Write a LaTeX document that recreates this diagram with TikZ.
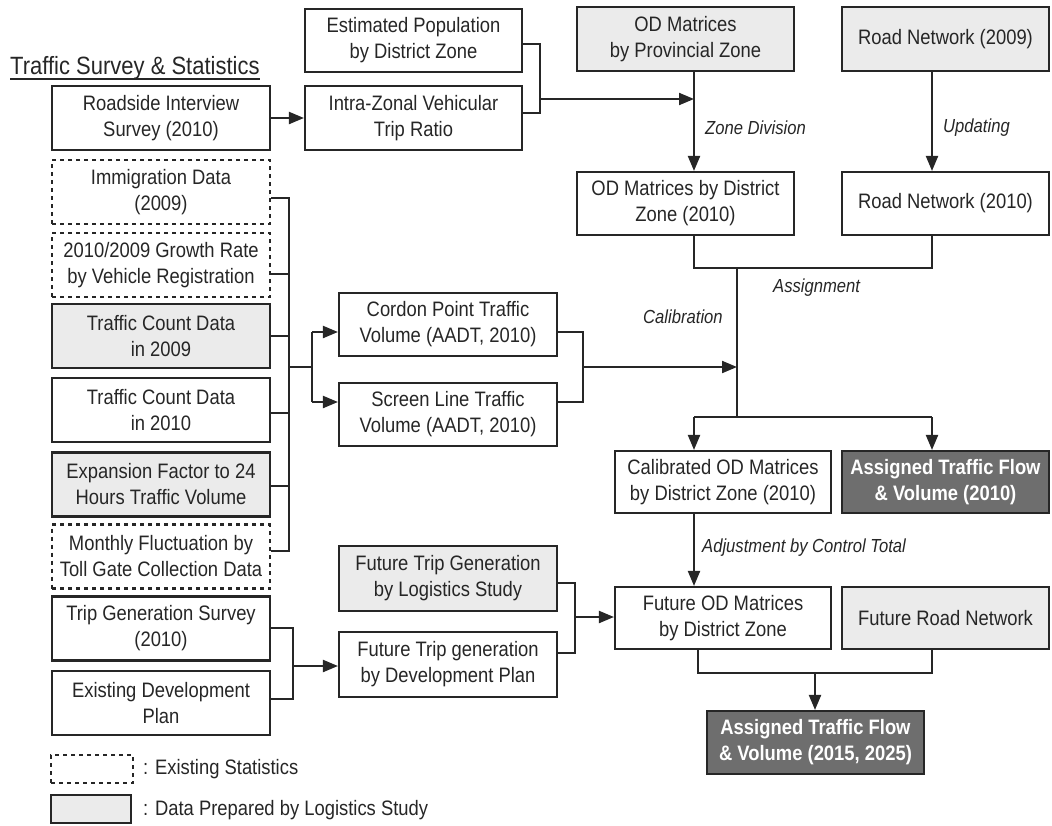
\documentclass[tikz,border=0pt]{standalone}
\usepackage{fontspec}
\setmainfont{Liberation Sans}[FakeStretch=0.88]
\usetikzlibrary{arrows.meta,calc}
\definecolor{lightfill}{HTML}{EBEBEB}
\definecolor{darkfill}{HTML}{6E6E6E}
\definecolor{ink}{HTML}{262626}
\begin{document}
\begin{tikzpicture}[x=1pt,y=-1pt,
  box/.style={draw=ink, line width=2.1pt, minimum width=218pt, minimum height=64pt, align=center, inner sep=2pt, font=\fontsize{20.9}{26}\selectfont, text=ink},
  dbox/.style={box, dash pattern=on 4pt off 4pt},
  gbox/.style={box, fill=lightfill},
  kbox/.style={box, fill=darkfill, text=white, font=\fontsize{20.9}{26}\selectfont\bfseries},
  conn/.style={draw=ink, line width=2.1pt},
  arr/.style={conn, -{Triangle[length=15pt,width=12pt]}},
  lbl/.style={font=\fontsize{18.9}{20}\selectfont\itshape, text=ink, inner sep=0pt, anchor=west},
  legtext/.style={font=\fontsize{20.9}{22}\selectfont, text=ink, inner sep=0pt, anchor=west}]
\useasboundingbox (0,0) rectangle (1052,825);

% title
\node[anchor=base west, inner sep=0pt, font=\fontsize{25}{26}\selectfont, text=ink] (ttl) at (10,74) {Traffic Survey \& Statistics};
\draw[ink, line width=1.6pt] ([yshift=-5pt]ttl.base west) -- ([yshift=-5pt]ttl.base east);

% left column
\node[box]  (rsi)  at (161,118)    {Roadside Interview\\Survey (2010)};
\node[dbox] (imm)  at (161,192)    {Immigration Data\\(2009)};
\node[dbox] (gro)  at (161,265)    {2010/2009 Growth Rate\\by Vehicle Registration};
\node[gbox] (tc09) at (161,336)    {Traffic Count Data\\in 2009};
\node[box]  (tc10) at (161,410)    {Traffic Count Data\\in 2010};
\node[gbox] (exf)  at (161,484.5)  {Expansion Factor to 24\\Hours Traffic Volume};
\node[dbox] (mon)  at (161,556.5)  {Monthly Fluctuation by\\Toll Gate Collection Data};
\node[box]  (tgs)  at (161,628.5)  {Trip Generation Survey\\(2010)};
\node[box]  (edp)  at (161,703)    {Existing Development\\Plan};

% top
\node[box, minimum width=217pt, minimum height=63pt] (est) at (413.5,40.5) {Estimated Population\\by District Zone};
\node[box, minimum width=217pt] (izr) at (413.5,118) {Intra-Zonal Vehicular\\Trip Ratio};
\node[gbox, minimum width=217pt] (odp) at (685.5,39) {OD Matrices\\by Provincial Zone};
\node[gbox, minimum width=207pt] (rn09) at (945.5,39) {Road Network (2009)};
\node[box, minimum width=217pt, minimum height=63pt] (odd) at (685.5,203.5) {OD Matrices by District\\Zone (2010)};
\node[box, minimum width=207pt, minimum height=63pt] (rn10) at (945.5,203.5) {Road Network (2010)};

% middle
\node[box, minimum height=63pt] (cpt) at (448,324.5) {Cordon Point Traffic\\Volume (AADT, 2010)};
\node[box, minimum height=63pt] (slt) at (448,414.5) {Screen Line Traffic\\Volume (AADT, 2010)};
\node[box, minimum width=216pt, minimum height=62pt] (cod) at (723,482) {Calibrated OD Matrices\\by District Zone (2010)};
\node[kbox, minimum width=207pt, minimum height=62pt] (at10) at (945.5,482) {Assigned Traffic Flow\\\& Volume (2010)};

% bottom
\node[gbox, minimum height=65pt] (ftl) at (448,578.5) {Future Trip Generation\\by Logistics Study};
\node[box, minimum height=65pt] (ftd) at (448,664.5) {Future Trip generation\\by Development Plan};
\node[box, minimum width=216pt, minimum height=62pt] (fod) at (723,618) {Future OD Matrices\\by District Zone};
\node[gbox, minimum width=207pt, minimum height=62pt] (frn) at (945.5,618) {Future Road Network};
\node[kbox, minimum width=217pt, minimum height=63pt] (at15) at (815.5,742.5) {Assigned Traffic Flow\\\& Volume (2015, 2025)};

% connectors: roadside -> intra-zonal
\draw[arr] (rsi.east) -- (izr.west);

% top bracket -> zone division
\coordinate (e1) at (540,44);
\coordinate (e2) at (540,113);
\coordinate (ej) at (540,99);
\coordinate (zj) at (694,99);
\draw[conn] (est.east |- e1) -- (e1) -- (e2) -- (izr.east |- e2);
\draw[arr] (ej) -- (zj);
\draw[arr] (odp.south -| zj) -- (odd.north -| zj);
\node[lbl] (lzd) at (705,128) {Zone Division};
\coordinate (ux) at (932,128);
\draw[arr] (rn09.south -| ux) -- (rn10.north -| ux);
\node[lbl] (lup) at (943,128) {Updating};

% assignment bracket
\coordinate (aL) at (694,268);
\coordinate (aR) at (932,268);
\coordinate (ab) at (737,268);
\coordinate (cB) at (737,417);
\coordinate (cL) at (694,417);
\coordinate (cR) at (932,417);
\draw[conn] (odd.south -| aL) -- (aL) -- (aR) -- (rn10.south -| aR);
\draw[conn] (ab) -- (cB);
\draw[conn] (cL) -- (cR);
\draw[arr] (cL) -- (cod.north -| cL);
\draw[arr] (cR) -- (at10.north -| cR);
\node[lbl] (lasg) at (773,288) {Assignment};
\node[lbl] (lcal) at (643,317) {Calibration};

% left bus
\coordinate (b1) at (289,198);
\coordinate (b2) at (289,274);
\coordinate (b3) at (289,336);
\coordinate (b4) at (289,413);
\coordinate (b5) at (289,486);
\coordinate (b6) at (289,551);
\coordinate (bj) at (289,367);
\coordinate (sj) at (312,367);
\coordinate (s1) at (312,332);
\coordinate (s2) at (312,402);
\draw[conn] (imm.east |- b1) -- (b1) -- (b6) -- (mon.east |- b6);
\draw[conn] (gro.east |- b2) -- (b2);
\draw[conn] (tc09.east |- b3) -- (b3);
\draw[conn] (tc10.east |- b4) -- (b4);
\draw[conn] (exf.east |- b5) -- (b5);
\draw[conn] (bj) -- (sj);
\draw[conn] (s1) -- (s2);
\draw[arr] (s1) -- (cpt.west |- s1);
\draw[arr] (s2) -- (slt.west |- s2);

% cordon/screen -> calibration
\coordinate (r1) at (583,332);
\coordinate (r2) at (583,402);
\coordinate (rj) at (583,367);
\draw[conn] (cpt.east |- r1) -- (r1) -- (r2) -- (slt.east |- r2);
\draw[arr] (rj) -- (rj -| cB);

% adjustment
\draw[arr] (cod.south -| cL) -- (fod.north -| cL);
\node[lbl] (ladj) at (702,548) {Adjustment by Control Total};

% future trip generation -> future OD
\coordinate (f1) at (575,583);
\coordinate (f2) at (575,653);
\coordinate (fj) at (575,617);
\draw[conn] (ftl.east |- f1) -- (f1) -- (f2) -- (ftd.east |- f2);
\draw[arr] (fj) -- (fod.west |- fj);

% trip generation survey -> future trip generation
\coordinate (t1) at (293,628);
\coordinate (t2) at (293,699);
\coordinate (tj) at (293,666);
\draw[conn] (tgs.east |- t1) -- (t1) -- (t2) -- (edp.east |- t2);
\draw[arr] (tj) -- (ftd.west |- tj);

% future assignment
\coordinate (g1) at (698,673);
\coordinate (g2) at (932,673);
\coordinate (gj) at (815,673);
\draw[conn] (fod.south -| g1) -- (g1) -- (g2) -- (frn.south -| g2);
\draw[arr] (gj) -- (at15.north -| gj);

% legend
\node[dbox, minimum width=82pt, minimum height=28pt] (leg1) at (92,769) {};
\node[gbox, minimum width=80pt, minimum height=28pt] (leg2) at (91,809) {};
\node[legtext] (leg1t) at (143,769) {: Existing Statistics};
\node[legtext] (leg2t) at (143,810) {: Data Prepared by Logistics Study};
\end{tikzpicture}
\end{document}
